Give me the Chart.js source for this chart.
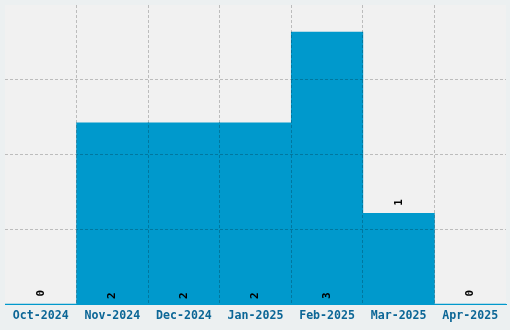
<!DOCTYPE html>
<html>
<head>
<meta charset="utf-8">
<script src="https://cdn.jsdelivr.net/npm/chart.js@4"></script>
<style>
  html, body { margin: 0; padding: 0; background: #ecf0f1; }
  #wrap { width: 510px; height: 330px; }
</style>
</head>
<body>
<div id="wrap"><canvas id="chart" width="510" height="330"></canvas></div>
<script>
const months = ['Oct-2024', 'Nov-2024', 'Dec-2024', 'Jan-2025', 'Feb-2025', 'Mar-2025', 'Apr-2025'];
const counts = [0, 2, 2, 2, 3, 1, 0];
const yMax = 3.3;

// light plot area behind the bars
const plotBg = {
  id: 'plotBg',
  beforeDraw(chart) {
    const { ctx, chartArea: a } = chart;
    ctx.save();
    ctx.fillStyle = '#f1f1f1';
    ctx.fillRect(a.left, a.top, a.right - a.left, a.bottom - a.top);
    ctx.restore();
  }
};

// rotated value labels: at the base for tall bars, above the top otherwise
const valueLabels = {
  id: 'valueLabels',
  afterDraw(chart) {
    const { ctx } = chart;
    const meta = chart.getDatasetMeta(0);
    ctx.save();
    ctx.font = 'bold 11px "DejaVu Sans Mono", monospace';
    ctx.fillStyle = '#000';
    ctx.textAlign = 'center';
    ctx.textBaseline = 'middle';
    meta.data.forEach((bar, i) => {
      const h = bar.base - bar.y;
      const y = h > 120 ? bar.base - 8 : bar.y - 11;
      ctx.save();
      ctx.translate(bar.x, y);
      ctx.rotate(-Math.PI / 2);
      ctx.fillText(String(counts[i]), 0, 0);
      ctx.restore();
    });
    ctx.restore();
  }
};

const gridColor = 'rgba(0,0,0,0.22)';

new Chart(document.getElementById('chart'), {
  type: 'bar',
  data: {
    labels: months,
    datasets: [{
      data: counts,
      backgroundColor: '#0099cc',
      borderWidth: 0,
      barPercentage: 1,
      categoryPercentage: 1
    }]
  },
  options: {
    responsive: false,
    animation: false,
    layout: { padding: { left: 5, right: 4, top: 5, bottom: 2 } },
    plugins: { legend: { display: false }, tooltip: { enabled: false } },
    scales: {
      x: {
        grid: {
          z: 1,
          drawTicks: false,
          // no lines on the left and right edges of the plot
          color: ctx => (ctx.type !== 'tick' || ctx.index === 0 ? 'transparent' : gridColor)
        },
        border: { display: true, color: '#0099cc', width: 1, dash: [3, 2], z: 1 },
        ticks: {
          color: '#0b6696',
          padding: 5,
          maxRotation: 0,
          font: { family: '"DejaVu Sans Mono", monospace', weight: 'bold', size: 11.6 }
        }
      },
      y: {
        min: 0,
        max: yMax,
        grid: {
          z: 1,
          drawTicks: false,
          color: ctx => (ctx.type !== 'tick' || ctx.index === 0 || ctx.index === 4 ? 'transparent' : gridColor)
        },
        border: { display: false, dash: [3, 2] },
        ticks: { display: false, count: 5 }
      }
    }
  },
  plugins: [plotBg, valueLabels]
});
</script>
</body>
</html>
